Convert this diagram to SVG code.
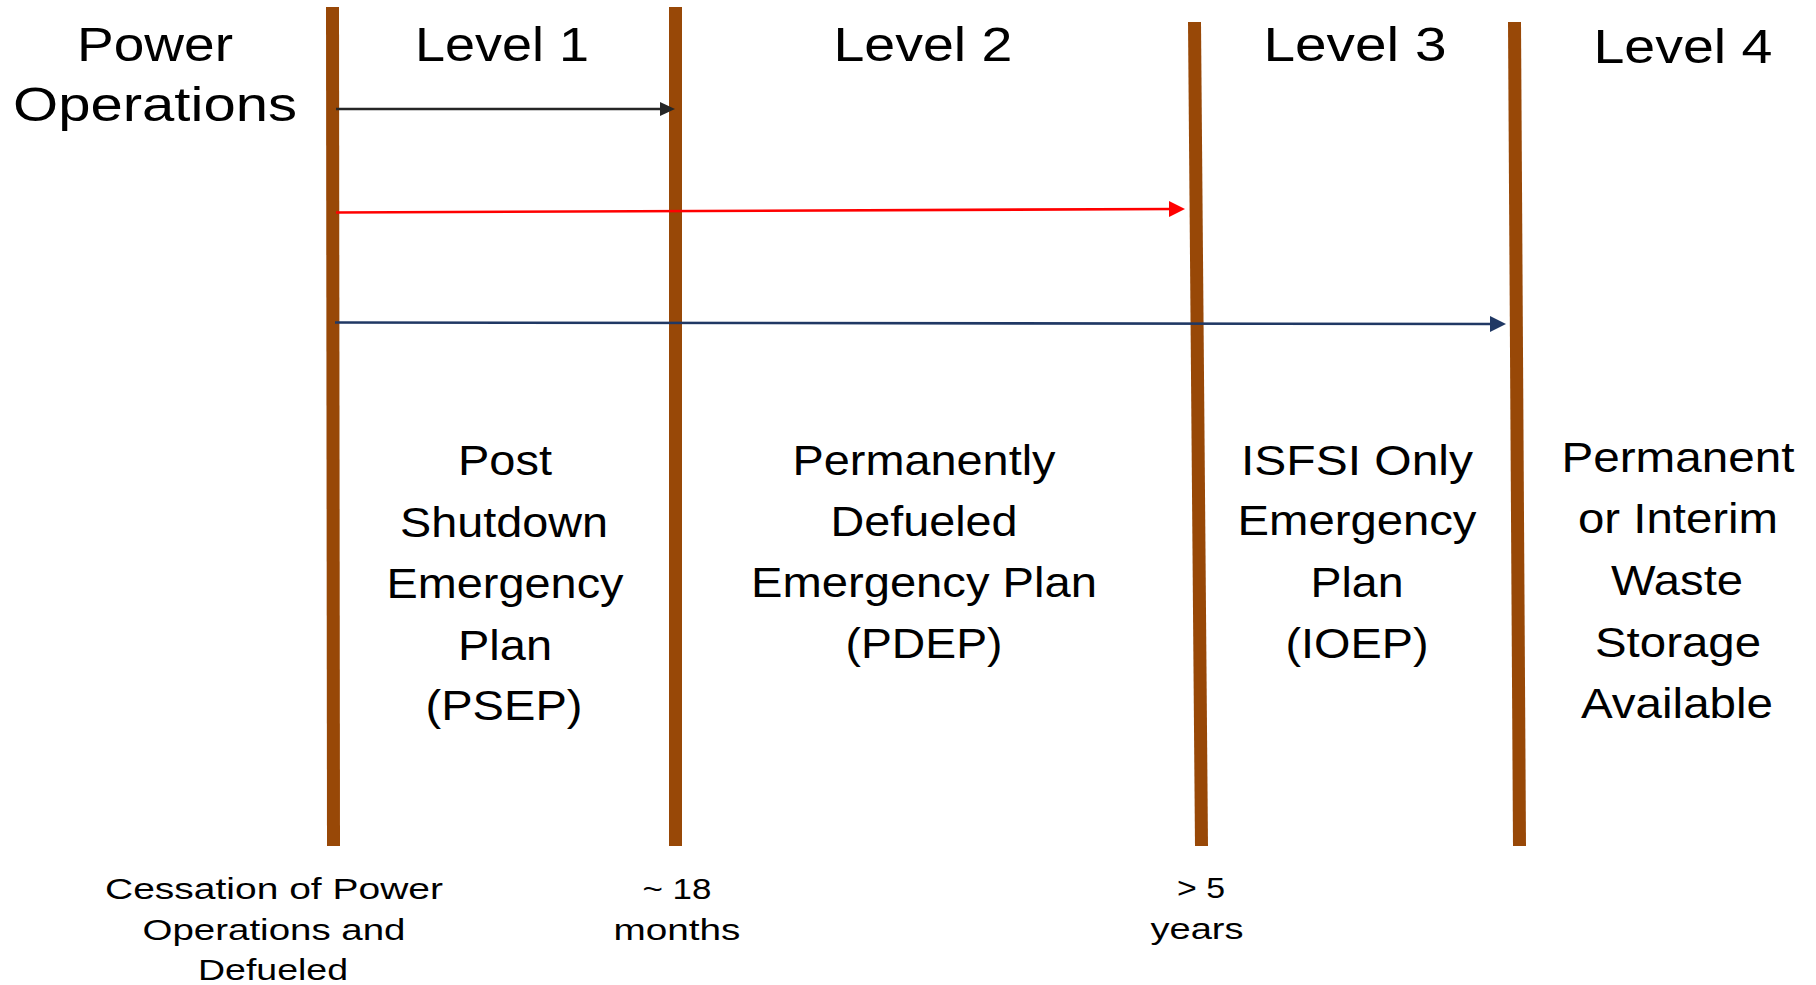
<svg xmlns="http://www.w3.org/2000/svg" width="1816" height="985" viewBox="0 0 1816 985">
<style>
  .bar { stroke: #984807; stroke-width: 13; stroke-linecap: butt; fill: none; }
  text { font-family: "Liberation Sans", Arial, sans-serif; fill: #000; text-anchor: middle; }
  .hdr { font-size: 49px; }
  .col { font-size: 42px; }
  .btm { font-size: 30px; }
  .conn { fill: none; stroke-width: 2.6; }
</style>
<defs>
  <marker id="ahBlack" markerUnits="userSpaceOnUse" markerWidth="16" markerHeight="14" refX="5" refY="7" orient="auto">
    <path d="M0,0 L15,7 L0,14 z" fill="#262626"/>
  </marker>
  <marker id="ahRed" markerUnits="userSpaceOnUse" markerWidth="17" markerHeight="16" refX="6" refY="8" orient="auto">
    <path d="M0,0 L16,8 L0,16 z" fill="#FF0000"/>
  </marker>
  <marker id="ahBlue" markerUnits="userSpaceOnUse" markerWidth="17" markerHeight="16" refX="6" refY="8" orient="auto">
    <path d="M0,0 L16,8 L0,16 z" fill="#203864"/>
  </marker>
</defs>
<rect width="1816" height="985" fill="#fff"/>

<g id="bars">
  <line class="bar" x1="332.5" y1="7" x2="333.5" y2="846"/>
  <line class="bar" x1="675.5" y1="7" x2="675.5" y2="846"/>
  <line class="bar" x1="1194.5" y1="22" x2="1201.5" y2="846"/>
  <line class="bar" x1="1514.5" y1="22" x2="1519.5" y2="846"/>
</g>

<g id="connectors">
  <line class="conn" stroke="#262626" x1="336" y1="109" x2="665" y2="109" marker-end="url(#ahBlack)"/>
  <line class="conn" stroke="#FF0000" x1="336" y1="212.5" x2="1175" y2="209" marker-end="url(#ahRed)"/>
  <line class="conn" stroke="#203864" x1="335" y1="322.5" x2="1496" y2="324" marker-end="url(#ahBlue)"/>
</g>

<g id="power-operations">
  <text class="hdr" x="155" y="61" textLength="156" lengthAdjust="spacingAndGlyphs">Power</text>
  <text class="hdr" x="155" y="121" textLength="284" lengthAdjust="spacingAndGlyphs">Operations</text>
</g>

<g id="level1">
  <text class="hdr" x="502" y="61" textLength="174" lengthAdjust="spacingAndGlyphs">Level 1</text>
  <text class="col" x="505" y="475" textLength="94" lengthAdjust="spacingAndGlyphs">Post</text>
  <text class="col" x="504" y="537" textLength="208" lengthAdjust="spacingAndGlyphs">Shutdown</text>
  <text class="col" x="505" y="598" textLength="237" lengthAdjust="spacingAndGlyphs">Emergency</text>
  <text class="col" x="505" y="660" textLength="94" lengthAdjust="spacingAndGlyphs">Plan</text>
  <text class="col" x="504" y="720" textLength="157" lengthAdjust="spacingAndGlyphs">(PSEP)</text>
</g>

<g id="level2">
  <text class="hdr" x="923" y="61" textLength="179" lengthAdjust="spacingAndGlyphs">Level 2</text>
  <text class="col" x="924" y="475" textLength="263" lengthAdjust="spacingAndGlyphs">Permanently</text>
  <text class="col" x="924" y="536" textLength="187" lengthAdjust="spacingAndGlyphs">Defueled</text>
  <text class="col" x="924" y="597" textLength="346" lengthAdjust="spacingAndGlyphs">Emergency Plan</text>
  <text class="col" x="924" y="658" textLength="157" lengthAdjust="spacingAndGlyphs">(PDEP)</text>
</g>

<g id="level3">
  <text class="hdr" x="1355" y="61" textLength="183" lengthAdjust="spacingAndGlyphs">Level 3</text>
  <text class="col" x="1357" y="475" textLength="232" lengthAdjust="spacingAndGlyphs">ISFSI Only</text>
  <text class="col" x="1357" y="535" textLength="239" lengthAdjust="spacingAndGlyphs">Emergency</text>
  <text class="col" x="1357" y="597" textLength="93" lengthAdjust="spacingAndGlyphs">Plan</text>
  <text class="col" x="1357" y="658" textLength="143" lengthAdjust="spacingAndGlyphs">(IOEP)</text>
</g>

<g id="level4">
  <text class="hdr" x="1683" y="63" textLength="179" lengthAdjust="spacingAndGlyphs">Level 4</text>
  <text class="col" x="1678" y="472" textLength="233" lengthAdjust="spacingAndGlyphs">Permanent</text>
  <text class="col" x="1678" y="533" textLength="200" lengthAdjust="spacingAndGlyphs">or Interim</text>
  <text class="col" x="1677" y="595" textLength="132" lengthAdjust="spacingAndGlyphs">Waste</text>
  <text class="col" x="1678" y="657" textLength="166" lengthAdjust="spacingAndGlyphs">Storage</text>
  <text class="col" x="1677" y="718" textLength="192" lengthAdjust="spacingAndGlyphs">Available</text>
</g>

<g id="milestone-cessation">
  <text class="btm" x="274" y="899" textLength="338" lengthAdjust="spacingAndGlyphs">Cessation of Power</text>
  <text class="btm" x="274" y="940" textLength="263" lengthAdjust="spacingAndGlyphs">Operations and</text>
  <text class="btm" x="273" y="980" textLength="150" lengthAdjust="spacingAndGlyphs">Defueled</text>
</g>

<g id="milestone-18months">
  <text class="btm" x="677" y="899" textLength="69" lengthAdjust="spacingAndGlyphs">~ 18</text>
  <text class="btm" x="677" y="940" textLength="127" lengthAdjust="spacingAndGlyphs">months</text>
</g>

<g id="milestone-5years">
  <text class="btm" x="1201" y="898" textLength="48" lengthAdjust="spacingAndGlyphs">&gt; 5</text>
  <text class="btm" x="1197" y="939" textLength="93" lengthAdjust="spacingAndGlyphs">years</text>
</g>
</svg>
